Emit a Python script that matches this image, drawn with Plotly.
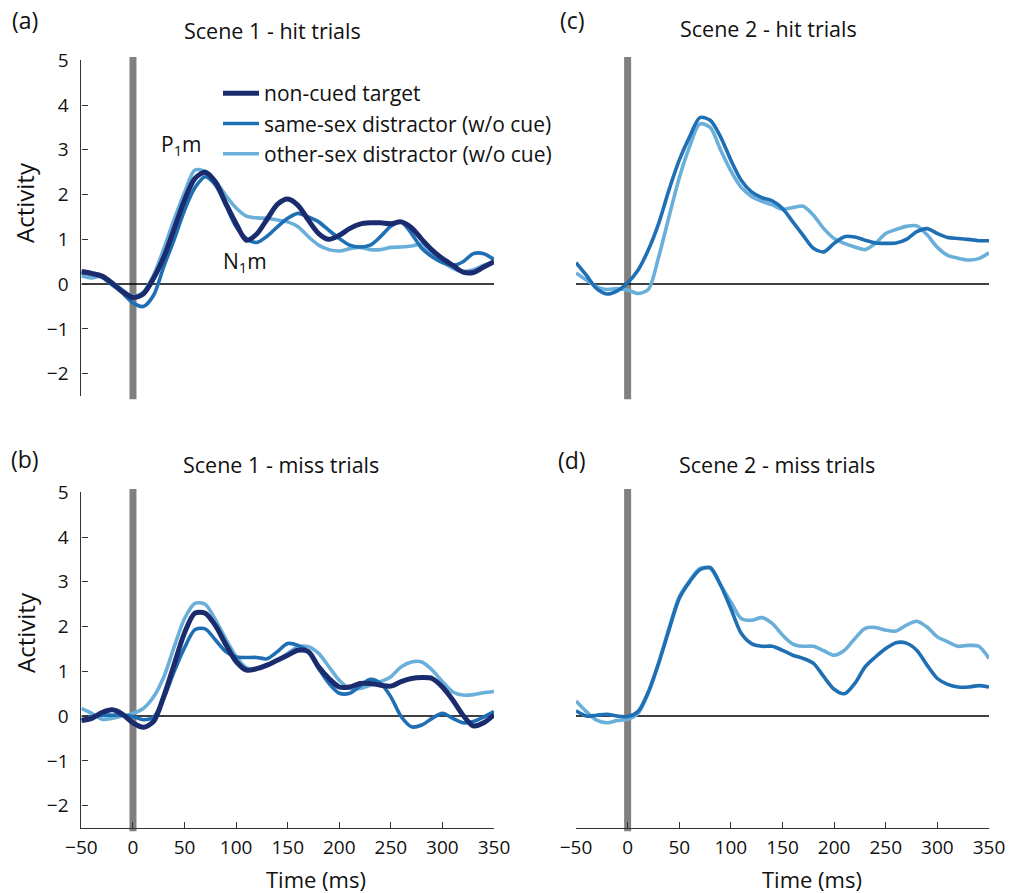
import plotly.graph_objects as go

# ---------------- data ----------------
time_ms = [-50, -40, -30, -20, -10, 0, 10, 20, 30, 40, 50, 60, 70, 80, 90, 100,
           110, 120, 130, 140, 150, 160, 170, 180, 190, 200, 210, 220, 230, 240,
           250, 260, 270, 280, 290, 300, 310, 320, 330, 340, 350]

# (a) Scene 1 - hit trials
a_target = [0.28, 0.24, 0.18, 0.02, -0.17, -0.30, -0.22, 0.13, 0.61, 1.24, 1.88, 2.36, 2.50,
            2.28, 1.80, 1.35, 0.98, 1.12, 1.45, 1.78, 1.90, 1.76, 1.43, 1.13, 1.00, 1.09,
            1.24, 1.34, 1.37, 1.37, 1.35, 1.39, 1.26, 1.00, 0.76, 0.57, 0.42, 0.27, 0.26,
            0.38, 0.50]
a_same = [0.25, 0.22, 0.15, -0.02, -0.20, -0.42, -0.50, -0.25, 0.40, 1.00, 1.65, 2.15, 2.40,
          2.21, 1.76, 1.28, 1.02, 0.93, 1.07, 1.28, 1.47, 1.58, 1.50, 1.39, 1.20, 1.02,
          0.87, 0.83, 0.87, 1.06, 1.29, 1.39, 1.13, 0.80, 0.61, 0.48, 0.42, 0.50, 0.68,
          0.68, 0.55]
a_other = [0.18, 0.14, 0.18, 0.03, -0.13, -0.28, -0.18, 0.20, 0.80, 1.45, 2.05, 2.55, 2.52,
           2.30, 1.98, 1.70, 1.52, 1.48, 1.47, 1.43, 1.39, 1.28, 1.06, 0.87, 0.77, 0.74,
           0.79, 0.82, 0.77, 0.77, 0.82, 0.83, 0.85, 0.89, 0.68, 0.50, 0.35, 0.28, 0.32,
           0.42, 0.50]

# (b) Scene 1 - miss trials
b_target = [-0.10, -0.05, 0.08, 0.14, 0.04, -0.15, -0.25, -0.12, 0.45, 1.16, 1.86, 2.30, 2.30,
            2.02, 1.60, 1.22, 1.03, 1.06, 1.14, 1.25, 1.36, 1.47, 1.44, 1.10, 0.84, 0.65,
            0.65, 0.73, 0.73, 0.69, 0.67, 0.77, 0.84, 0.86, 0.84, 0.65, 0.36, 0.02, -0.22,
            -0.15, 0.03]
b_same = [-0.09, -0.01, 0.02, 0.02, 0.02, -0.01, -0.08, -0.02, 0.40, 1.00, 1.53, 1.93, 1.95,
          1.70, 1.44, 1.32, 1.31, 1.31, 1.28, 1.44, 1.62, 1.58, 1.44, 1.06, 0.73, 0.51,
          0.51, 0.67, 0.82, 0.73, 0.43, -0.01, -0.24, -0.20, -0.05, 0.06, -0.05, -0.15,
          -0.12, -0.02, 0.10]
b_other = [0.17, 0.06, -0.07, -0.05, 0.00, 0.06, 0.17, 0.43, 0.88, 1.55, 2.18, 2.52, 2.50,
           2.15, 1.72, 1.33, 1.08, 1.06, 1.14, 1.25, 1.40, 1.55, 1.55, 1.40, 1.10, 0.80,
           0.62, 0.62, 0.69, 0.77, 0.88, 1.10, 1.21, 1.21, 1.03, 0.77, 0.54, 0.47, 0.48,
           0.52, 0.55]

# (c) Scene 2 - hit trials
c_same = [0.48, 0.20, -0.10, -0.22, -0.15, 0.03, 0.31, 0.76, 1.35, 2.10, 2.77, 3.29, 3.72,
          3.66, 3.29, 2.77, 2.32, 2.06, 1.93, 1.86, 1.69, 1.39, 1.09, 0.80, 0.72, 0.91,
          1.06, 1.05, 0.98, 0.92, 0.91, 0.92, 1.00, 1.17, 1.24, 1.13, 1.04, 1.02, 1.00,
          0.97, 0.97]
c_other = [0.25, 0.09, -0.06, -0.12, -0.10, -0.13, -0.21, -0.12, 0.60, 1.50, 2.37, 3.07, 3.58,
           3.50, 3.00, 2.53, 2.16, 1.96, 1.85, 1.77, 1.67, 1.71, 1.74, 1.54, 1.24, 1.02,
           0.91, 0.83, 0.77, 0.91, 1.13, 1.22, 1.29, 1.30, 1.10, 0.82, 0.64, 0.58, 0.54,
           0.57, 0.70]

# (d) Scene 2 - miss trials
d_same = [0.12, 0.00, 0.02, 0.04, 0.00, -0.01, 0.10, 0.54, 1.18, 1.92, 2.63, 3.00, 3.27,
          3.32, 2.93, 2.40, 1.85, 1.62, 1.56, 1.56, 1.47, 1.36, 1.29, 1.18, 0.88, 0.60,
          0.50, 0.73, 1.10, 1.32, 1.51, 1.64, 1.63, 1.47, 1.14, 0.84, 0.71, 0.65, 0.65,
          0.68, 0.65]
d_other = [0.34, 0.10, -0.09, -0.15, -0.10, -0.07, 0.06, 0.51, 1.18, 1.96, 2.66, 3.02, 3.30,
           3.30, 2.93, 2.55, 2.18, 2.14, 2.20, 2.07, 1.81, 1.61, 1.56, 1.56, 1.46, 1.36,
           1.47, 1.73, 1.96, 1.98, 1.92, 1.90, 2.03, 2.12, 1.99, 1.77, 1.66, 1.56, 1.58,
           1.56, 1.29]

series_names = ["non-cued target", "same-sex distractor (w/o cue)", "other-sex distractor (w/o cue)"]
panel_titles = ["Scene 1 - hit trials", "Scene 2 - hit trials", "Scene 1 - miss trials", "Scene 2 - miss trials"]
panel_letters = ["(a)", "(c)", "(b)", "(d)"]
y_ticks = [-2, -1, 0, 1, 2, 3, 4, 5]
x_ticks = [-50, 0, 50, 100, 150, 200, 250, 300, 350]

# ---------------- style ----------------
C_TARGET = "#1b2c6e"
C_SAME = "#1f6fb4"
C_OTHER = "#6aafd9"
FONT = "Open Sans"
W, H = 1009, 893

def px_x(p):
    return p / W

def px_y(p):
    return 1 - p / H

XL = [px_x(81.4), px_x(494)]
XR = [px_x(576), px_x(989)]
YT = [px_y(396), px_y(60.3)]
YB = [px_y(828), px_y(492.3)]

fig = go.Figure()

def add(series, name, color, width, xa, ya, show):
    fig.add_trace(go.Scatter(x=time_ms, y=series, mode="lines", name=name,
                             line=dict(color=color, width=width, shape="spline", smoothing=0.8),
                             xaxis=xa, yaxis=ya, showlegend=show, hoverinfo="skip"))

# panel (a)
add(a_other, series_names[2], C_OTHER, 3.6, "x", "y", False)
add(a_same, series_names[1], C_SAME, 3.6, "x", "y", False)
add(a_target, series_names[0], C_TARGET, 5, "x", "y", False)
# panel (c)
add(c_other, series_names[2], C_OTHER, 3.6, "x2", "y2", False)
add(c_same, series_names[1], C_SAME, 3.6, "x2", "y2", False)
# panel (b)
add(b_other, series_names[2], C_OTHER, 3.6, "x3", "y3", False)
add(b_same, series_names[1], C_SAME, 3.6, "x3", "y3", False)
add(b_target, series_names[0], C_TARGET, 5, "x3", "y3", False)
# panel (d)
add(d_other, series_names[2], C_OTHER, 3.6, "x4", "y4", False)
add(d_same, series_names[1], C_SAME, 3.6, "x4", "y4", False)

# legend entries (legend-only traces in panel a, ordered)
for nm, col, wd in [(series_names[0], C_TARGET, 5), (series_names[1], C_SAME, 3.6), (series_names[2], C_OTHER, 3.6)]:
    fig.add_trace(go.Scatter(x=[None], y=[None], mode="lines", name=nm,
                             line=dict(color=col, width=wd), xaxis="x", yaxis="y", showlegend=True))

axis_font = dict(family=FONT, size=19, color="#111")
base = dict(showgrid=False, zeroline=False, automargin=False, tickcolor="#333",
            tickfont=axis_font, linecolor="#333", linewidth=1.2, ticklen=6)

def xax(domain, anchor, visible):
    d = dict(base, domain=domain, anchor=anchor, range=[-50, 350], tickvals=x_ticks)
    if visible:
        d.update(showline=True, ticks="inside", showticklabels=True, ticklabelstandoff=2)
    else:
        d.update(showline=False, ticks="", showticklabels=False)
    return d

def yax(domain, anchor, visible):
    d = dict(base, domain=domain, anchor=anchor, range=[-2.5, 5], tickvals=y_ticks)
    if visible:
        d.update(showline=True, ticks="inside", showticklabels=True, ticklabelstandoff=8)
    else:
        d.update(showline=False, ticks="", showticklabels=False)
    return d

fig.update_layout(
    template="none",
    width=W, height=H, margin=dict(l=0, r=0, t=0, b=0, pad=0), autosize=False,
    paper_bgcolor="white", plot_bgcolor="white",
    font=dict(family=FONT, color="#111"),
    showlegend=True,
    legend=dict(x=px_x(218), y=px_y(73), xanchor="left", yanchor="top",
                bgcolor="rgba(0,0,0,0)", borderwidth=0, itemwidth=36,
                font=dict(family=FONT, size=21, color="#111"), traceorder="normal"),
    xaxis=xax(XL, "y", False),
    yaxis=yax(YT, "x", True),
    xaxis2=xax(XR, "y2", False),
    yaxis2=yax(YT, "x2", False),
    xaxis3=xax(XL, "y3", True),
    yaxis3=yax(YB, "x3", True),
    xaxis4=xax(XR, "y4", True),
    yaxis4=yax(YB, "x4", False),
)

# zero lines and stimulus-onset bars
for xa, ya in [("x", "y"), ("x2", "y2"), ("x3", "y3"), ("x4", "y4")]:
    fig.add_shape(type="line", xref=xa, yref=ya, x0=-50, x1=350, y0=0, y1=0,
                  line=dict(color="black", width=1.5), layer="below")
    fig.add_shape(type="line", xref=xa, yref=ya + " domain", x0=0, x1=0, y0=-0.01, y1=1.01,
                  line=dict(color="#808080", width=7), layer="below")

ann = []
title_pos = [(272, 30), (768, 28), (281, 464), (777, 464)]
for (tx, ty), t in zip(title_pos, panel_titles):
    ann.append(dict(text=t, x=px_x(tx), y=px_y(ty), xref="paper", yref="paper",
                    showarrow=False, font=dict(family=FONT, size=21.5, color="#111"),
                    xanchor="center", yanchor="middle"))
letter_pos = [(25, 20), (572, 20), (25, 459), (572, 460)]
for (lx, ly), t in zip(letter_pos, panel_letters):
    ann.append(dict(text=t, x=px_x(lx), y=px_y(ly), xref="paper", yref="paper",
                    showarrow=False, font=dict(family=FONT, size=23, color="#111"),
                    xanchor="center", yanchor="middle"))
for ly in (203, 633):
    ann.append(dict(text="Activity", x=px_x(25), y=px_y(ly), xref="paper", yref="paper",
                    showarrow=False, textangle=-90, font=dict(family=FONT, size=24, color="#111"),
                    xanchor="center", yanchor="middle"))
for lx in (316, 812):
    ann.append(dict(text="Time (ms)", x=px_x(lx), y=px_y(879), xref="paper", yref="paper",
                    showarrow=False, font=dict(family=FONT, size=22, color="#111"),
                    xanchor="center", yanchor="middle"))
ann.append(dict(text="P<sub>1</sub>m", x=px_x(181), y=px_y(145), xref="paper", yref="paper",
                showarrow=False, font=dict(family=FONT, size=21, color="#111"),
                xanchor="center", yanchor="middle"))
ann.append(dict(text="N<sub>1</sub>m", x=px_x(245), y=px_y(262), xref="paper", yref="paper",
                showarrow=False, font=dict(family=FONT, size=21, color="#111"),
                xanchor="center", yanchor="middle"))
fig.update_layout(annotations=ann)

fig.write_html("out.html", config={"displayModeBar": False},
               post_script="document.body.style.margin='0';document.body.style.padding='0';"
                           "document.body.style.overflow='hidden';")
